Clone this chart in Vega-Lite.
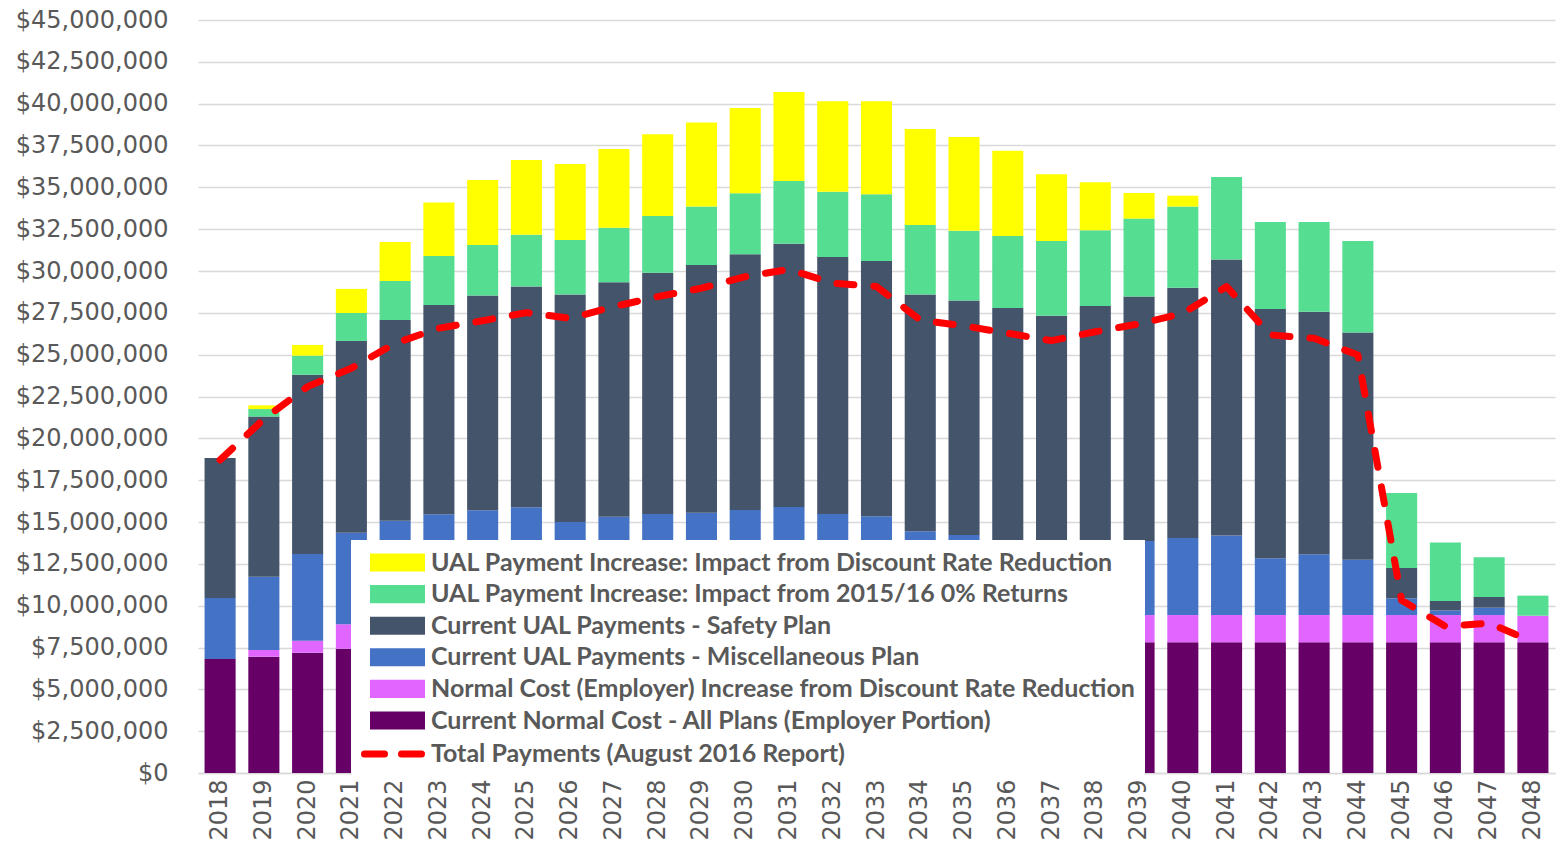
{
  "$schema": "https://vega.github.io/schema/vega-lite/v6.json",
  "width": 1357,
  "height": 753,
  "autosize": {"type": "none"},
  "padding": {"left": 198, "top": 20, "right": 9, "bottom": 74},
  "background": "white",
  "config": {
    "view": {"stroke": null},
    "axis": {"labelFont": "DejaVu Sans", "labelColor": "#595959", "labelFontSize": 24, "ticks": false, "tickSize": 0, "gridColor": "#D9D9D9", "gridWidth": 1.3}
  },
  "datasets": {
    "stackrank": [
      {"series": "Current Normal Cost - All Plans (Employer Portion)", "rank": 1},
      {"series": "Normal Cost (Employer) Increase from Discount Rate Reduction", "rank": 2},
      {"series": "Current UAL Payments - Miscellaneous Plan", "rank": 3},
      {"series": "Current UAL Payments - Safety Plan", "rank": 4},
      {"series": "UAL Payment Increase: Impact from 2015/16 0% Returns", "rank": 5},
      {"series": "UAL Payment Increase: Impact from Discount Rate Reduction", "rank": 6}
    ]
  },
  "data": {"values": [
    {"year": "2018", "Current Normal Cost - All Plans (Employer Portion)": 6810000, "Normal Cost (Employer) Increase from Discount Rate Reduction": 0, "Current UAL Payments - Miscellaneous Plan": 3650000, "Current UAL Payments - Safety Plan": 8370000, "UAL Payment Increase: Impact from 2015/16 0% Returns": 0, "UAL Payment Increase: Impact from Discount Rate Reduction": 0, "total": 18710000},
    {"year": "2019", "Current Normal Cost - All Plans (Employer Portion)": 6950000, "Normal Cost (Employer) Increase from Discount Rate Reduction": 400000, "Current UAL Payments - Miscellaneous Plan": 4380000, "Current UAL Payments - Safety Plan": 9570000, "UAL Payment Increase: Impact from 2015/16 0% Returns": 450000, "UAL Payment Increase: Impact from Discount Rate Reduction": 220000, "total": 21150000},
    {"year": "2020", "Current Normal Cost - All Plans (Employer Portion)": 7190000, "Normal Cost (Employer) Increase from Discount Rate Reduction": 720000, "Current UAL Payments - Miscellaneous Plan": 5180000, "Current UAL Payments - Safety Plan": 10710000, "UAL Payment Increase: Impact from 2015/16 0% Returns": 1140000, "UAL Payment Increase: Impact from Discount Rate Reduction": 640000, "total": 23090000},
    {"year": "2021", "Current Normal Cost - All Plans (Employer Portion)": 7430000, "Normal Cost (Employer) Increase from Discount Rate Reduction": 1460000, "Current UAL Payments - Miscellaneous Plan": 5470000, "Current UAL Payments - Safety Plan": 11460000, "UAL Payment Increase: Impact from 2015/16 0% Returns": 1670000, "UAL Payment Increase: Impact from Discount Rate Reduction": 1440000, "total": 24190000},
    {"year": "2022", "Current Normal Cost - All Plans (Employer Portion)": 7550000, "Normal Cost (Employer) Increase from Discount Rate Reduction": 1550000, "Current UAL Payments - Miscellaneous Plan": 5980000, "Current UAL Payments - Safety Plan": 11990000, "UAL Payment Increase: Impact from 2015/16 0% Returns": 2330000, "UAL Payment Increase: Impact from Discount Rate Reduction": 2340000, "total": 25680000},
    {"year": "2023", "Current Normal Cost - All Plans (Employer Portion)": 7600000, "Normal Cost (Employer) Increase from Discount Rate Reduction": 1580000, "Current UAL Payments - Miscellaneous Plan": 6280000, "Current UAL Payments - Safety Plan": 12510000, "UAL Payment Increase: Impact from 2015/16 0% Returns": 2930000, "UAL Payment Increase: Impact from Discount Rate Reduction": 3200000, "total": 26580000},
    {"year": "2024", "Current Normal Cost - All Plans (Employer Portion)": 7650000, "Normal Cost (Employer) Increase from Discount Rate Reduction": 1600000, "Current UAL Payments - Miscellaneous Plan": 6450000, "Current UAL Payments - Safety Plan": 12830000, "UAL Payment Increase: Impact from 2015/16 0% Returns": 3030000, "UAL Payment Increase: Impact from Discount Rate Reduction": 3880000, "total": 27030000},
    {"year": "2025", "Current Normal Cost - All Plans (Employer Portion)": 7680000, "Normal Cost (Employer) Increase from Discount Rate Reduction": 1620000, "Current UAL Payments - Miscellaneous Plan": 6580000, "Current UAL Payments - Safety Plan": 13190000, "UAL Payment Increase: Impact from 2015/16 0% Returns": 3100000, "UAL Payment Increase: Impact from Discount Rate Reduction": 4470000, "total": 27510000},
    {"year": "2026", "Current Normal Cost - All Plans (Employer Portion)": 7700000, "Normal Cost (Employer) Increase from Discount Rate Reduction": 1620000, "Current UAL Payments - Miscellaneous Plan": 5680000, "Current UAL Payments - Safety Plan": 13590000, "UAL Payment Increase: Impact from 2015/16 0% Returns": 3260000, "UAL Payment Increase: Impact from Discount Rate Reduction": 4550000, "total": 27170000},
    {"year": "2027", "Current Normal Cost - All Plans (Employer Portion)": 7720000, "Normal Cost (Employer) Increase from Discount Rate Reduction": 1630000, "Current UAL Payments - Miscellaneous Plan": 5970000, "Current UAL Payments - Safety Plan": 14010000, "UAL Payment Increase: Impact from 2015/16 0% Returns": 3260000, "UAL Payment Increase: Impact from Discount Rate Reduction": 4700000, "total": 27870000},
    {"year": "2028", "Current Normal Cost - All Plans (Employer Portion)": 7740000, "Normal Cost (Employer) Increase from Discount Rate Reduction": 1630000, "Current UAL Payments - Miscellaneous Plan": 6110000, "Current UAL Payments - Safety Plan": 14420000, "UAL Payment Increase: Impact from 2015/16 0% Returns": 3390000, "UAL Payment Increase: Impact from Discount Rate Reduction": 4880000, "total": 28470000},
    {"year": "2029", "Current Normal Cost - All Plans (Employer Portion)": 7750000, "Normal Cost (Employer) Increase from Discount Rate Reduction": 1630000, "Current UAL Payments - Miscellaneous Plan": 6180000, "Current UAL Payments - Safety Plan": 14800000, "UAL Payment Increase: Impact from 2015/16 0% Returns": 3490000, "UAL Payment Increase: Impact from Discount Rate Reduction": 5020000, "total": 28970000},
    {"year": "2030", "Current Normal Cost - All Plans (Employer Portion)": 7760000, "Normal Cost (Employer) Increase from Discount Rate Reduction": 1630000, "Current UAL Payments - Miscellaneous Plan": 6330000, "Current UAL Payments - Safety Plan": 15280000, "UAL Payment Increase: Impact from 2015/16 0% Returns": 3650000, "UAL Payment Increase: Impact from Discount Rate Reduction": 5090000, "total": 29660000},
    {"year": "2031", "Current Normal Cost - All Plans (Employer Portion)": 7770000, "Normal Cost (Employer) Increase from Discount Rate Reduction": 1630000, "Current UAL Payments - Miscellaneous Plan": 6500000, "Current UAL Payments - Safety Plan": 15730000, "UAL Payment Increase: Impact from 2015/16 0% Returns": 3750000, "UAL Payment Increase: Impact from Discount Rate Reduction": 5320000, "total": 30100000},
    {"year": "2032", "Current Normal Cost - All Plans (Employer Portion)": 7780000, "Normal Cost (Employer) Increase from Discount Rate Reduction": 1620000, "Current UAL Payments - Miscellaneous Plan": 6080000, "Current UAL Payments - Safety Plan": 15360000, "UAL Payment Increase: Impact from 2015/16 0% Returns": 3900000, "UAL Payment Increase: Impact from Discount Rate Reduction": 5400000, "total": 29270000},
    {"year": "2033", "Current Normal Cost - All Plans (Employer Portion)": 7780000, "Normal Cost (Employer) Increase from Discount Rate Reduction": 1630000, "Current UAL Payments - Miscellaneous Plan": 5930000, "Current UAL Payments - Safety Plan": 15260000, "UAL Payment Increase: Impact from 2015/16 0% Returns": 3980000, "UAL Payment Increase: Impact from Discount Rate Reduction": 5560000, "total": 29070000},
    {"year": "2034", "Current Normal Cost - All Plans (Employer Portion)": 7790000, "Normal Cost (Employer) Increase from Discount Rate Reduction": 1620000, "Current UAL Payments - Miscellaneous Plan": 5030000, "Current UAL Payments - Safety Plan": 14150000, "UAL Payment Increase: Impact from 2015/16 0% Returns": 4160000, "UAL Payment Increase: Impact from Discount Rate Reduction": 5740000, "total": 27070000},
    {"year": "2035", "Current Normal Cost - All Plans (Employer Portion)": 7790000, "Normal Cost (Employer) Increase from Discount Rate Reduction": 1630000, "Current UAL Payments - Miscellaneous Plan": 4800000, "Current UAL Payments - Safety Plan": 14010000, "UAL Payment Increase: Impact from 2015/16 0% Returns": 4180000, "UAL Payment Increase: Impact from Discount Rate Reduction": 5600000, "total": 26720000},
    {"year": "2036", "Current Normal Cost - All Plans (Employer Portion)": 7800000, "Normal Cost (Employer) Increase from Discount Rate Reduction": 1620000, "Current UAL Payments - Miscellaneous Plan": 4470000, "Current UAL Payments - Safety Plan": 13900000, "UAL Payment Increase: Impact from 2015/16 0% Returns": 4300000, "UAL Payment Increase: Impact from Discount Rate Reduction": 5090000, "total": 26280000},
    {"year": "2037", "Current Normal Cost - All Plans (Employer Portion)": 7800000, "Normal Cost (Employer) Increase from Discount Rate Reduction": 1630000, "Current UAL Payments - Miscellaneous Plan": 4250000, "Current UAL Payments - Safety Plan": 13650000, "UAL Payment Increase: Impact from 2015/16 0% Returns": 4470000, "UAL Payment Increase: Impact from Discount Rate Reduction": 3980000, "total": 25840000},
    {"year": "2038", "Current Normal Cost - All Plans (Employer Portion)": 7800000, "Normal Cost (Employer) Increase from Discount Rate Reduction": 1630000, "Current UAL Payments - Miscellaneous Plan": 4330000, "Current UAL Payments - Safety Plan": 14150000, "UAL Payment Increase: Impact from 2015/16 0% Returns": 4520000, "UAL Payment Increase: Impact from Discount Rate Reduction": 2870000, "total": 26370000},
    {"year": "2039", "Current Normal Cost - All Plans (Employer Portion)": 7810000, "Normal Cost (Employer) Increase from Discount Rate Reduction": 1630000, "Current UAL Payments - Miscellaneous Plan": 4430000, "Current UAL Payments - Safety Plan": 14600000, "UAL Payment Increase: Impact from 2015/16 0% Returns": 4660000, "UAL Payment Increase: Impact from Discount Rate Reduction": 1530000, "total": 26840000},
    {"year": "2040", "Current Normal Cost - All Plans (Employer Portion)": 7810000, "Normal Cost (Employer) Increase from Discount Rate Reduction": 1630000, "Current UAL Payments - Miscellaneous Plan": 4600000, "Current UAL Payments - Safety Plan": 14960000, "UAL Payment Increase: Impact from 2015/16 0% Returns": 4850000, "UAL Payment Increase: Impact from Discount Rate Reduction": 650000, "total": 27470000},
    {"year": "2041", "Current Normal Cost - All Plans (Employer Portion)": 7810000, "Normal Cost (Employer) Increase from Discount Rate Reduction": 1630000, "Current UAL Payments - Miscellaneous Plan": 4760000, "Current UAL Payments - Safety Plan": 16480000, "UAL Payment Increase: Impact from 2015/16 0% Returns": 4940000, "UAL Payment Increase: Impact from Discount Rate Reduction": 0, "total": 29070000},
    {"year": "2042", "Current Normal Cost - All Plans (Employer Portion)": 7810000, "Normal Cost (Employer) Increase from Discount Rate Reduction": 1630000, "Current UAL Payments - Miscellaneous Plan": 3400000, "Current UAL Payments - Safety Plan": 14890000, "UAL Payment Increase: Impact from 2015/16 0% Returns": 5200000, "UAL Payment Increase: Impact from Discount Rate Reduction": 0, "total": 26180000},
    {"year": "2043", "Current Normal Cost - All Plans (Employer Portion)": 7810000, "Normal Cost (Employer) Increase from Discount Rate Reduction": 1630000, "Current UAL Payments - Miscellaneous Plan": 3630000, "Current UAL Payments - Safety Plan": 14500000, "UAL Payment Increase: Impact from 2015/16 0% Returns": 5360000, "UAL Payment Increase: Impact from Discount Rate Reduction": 0, "total": 25980000},
    {"year": "2044", "Current Normal Cost - All Plans (Employer Portion)": 7810000, "Normal Cost (Employer) Increase from Discount Rate Reduction": 1630000, "Current UAL Payments - Miscellaneous Plan": 3310000, "Current UAL Payments - Safety Plan": 13570000, "UAL Payment Increase: Impact from 2015/16 0% Returns": 5480000, "UAL Payment Increase: Impact from Discount Rate Reduction": 0, "total": 24980000},
    {"year": "2045", "Current Normal Cost - All Plans (Employer Portion)": 7810000, "Normal Cost (Employer) Increase from Discount Rate Reduction": 1630000, "Current UAL Payments - Miscellaneous Plan": 1000000, "Current UAL Payments - Safety Plan": 1810000, "UAL Payment Increase: Impact from 2015/16 0% Returns": 4490000, "UAL Payment Increase: Impact from Discount Rate Reduction": 0, "total": 10320000},
    {"year": "2046", "Current Normal Cost - All Plans (Employer Portion)": 7810000, "Normal Cost (Employer) Increase from Discount Rate Reduction": 1630000, "Current UAL Payments - Miscellaneous Plan": 280000, "Current UAL Payments - Safety Plan": 560000, "UAL Payment Increase: Impact from 2015/16 0% Returns": 3500000, "UAL Payment Increase: Impact from Discount Rate Reduction": 0, "total": 8760000},
    {"year": "2047", "Current Normal Cost - All Plans (Employer Portion)": 7810000, "Normal Cost (Employer) Increase from Discount Rate Reduction": 1630000, "Current UAL Payments - Miscellaneous Plan": 440000, "Current UAL Payments - Safety Plan": 640000, "UAL Payment Increase: Impact from 2015/16 0% Returns": 2370000, "UAL Payment Increase: Impact from Discount Rate Reduction": 0, "total": 8960000},
    {"year": "2048", "Current Normal Cost - All Plans (Employer Portion)": 7810000, "Normal Cost (Employer) Increase from Discount Rate Reduction": 1590000, "Current UAL Payments - Miscellaneous Plan": 0, "Current UAL Payments - Safety Plan": 0, "UAL Payment Increase: Impact from 2015/16 0% Returns": 1200000, "UAL Payment Increase: Impact from Discount Rate Reduction": 0, "total": 7830000}
  ]},
  "encoding": {
    "x": {
      "field": "year", "type": "ordinal",
      "scale": {"paddingInner": 0.29, "paddingOuter": 0.15},
      "axis": {"title": null, "labelAngle": 270, "labelPadding": 6, "grid": false, "domain": true, "domainColor": "#D9D9D9", "domainWidth": 1.3}
    }
  },
  "layer": [
    {
      "transform": [
        {"fold": [
          "Current Normal Cost - All Plans (Employer Portion)",
          "Normal Cost (Employer) Increase from Discount Rate Reduction",
          "Current UAL Payments - Miscellaneous Plan",
          "Current UAL Payments - Safety Plan",
          "UAL Payment Increase: Impact from 2015/16 0% Returns",
          "UAL Payment Increase: Impact from Discount Rate Reduction"
        ], "as": ["series", "value"]},
        {"lookup": "series", "from": {"data": {"name": "stackrank"}, "key": "series", "fields": ["rank"]}}
      ],
      "mark": {"type": "bar"},
      "encoding": {
        "y": {
          "field": "value", "type": "quantitative", "stack": "zero",
          "scale": {"domain": [0, 45000000], "nice": false},
          "axis": {"title": null, "format": "$,.0f", "values": [0, 2500000, 5000000, 7500000, 10000000, 12500000, 15000000, 17500000, 20000000, 22500000, 25000000, 27500000, 30000000, 32500000, 35000000, 37500000, 40000000, 42500000, 45000000], "labelPadding": 30, "domain": false, "grid": true}
        },
        "order": {"field": "rank", "type": "quantitative", "sort": "ascending"},
        "color": {
          "field": "series", "type": "nominal",
          "scale": {
            "domain": [
              "UAL Payment Increase: Impact from Discount Rate Reduction",
              "UAL Payment Increase: Impact from 2015/16 0% Returns",
              "Current UAL Payments - Safety Plan",
              "Current UAL Payments - Miscellaneous Plan",
              "Normal Cost (Employer) Increase from Discount Rate Reduction",
              "Current Normal Cost - All Plans (Employer Portion)",
              "Total Payments (August 2016 Report)"
            ],
            "range": ["#FFFF00", "#55DD92", "#44546A", "#4472C4", "#E066FF", "#660066", "#FF0000"]
          },
          "legend": {
            "title": null,
            "orient": "none",
            "legendX": 153,
            "legendY": 520,
            "fillColor": "white",
            "padding": 10,
            "labelFont": "Lato",
            "labelFontWeight": "bold",
            "labelFontSize": 25,
            "labelColor": "#595959",
            "labelLimit": 1000,
            "labelOffset": 21,
            "symbolOffset": 24,
            "rowPadding": 5.6,
            "symbolSize": 3025,
            "encode": {
              "symbols": {
                "update": {
                  "shape": {"signal": "datum.value === 'Total Payments (August 2016 Report)' ? 'M-1.2,0H1.2' : 'M-1,-0.33H1V0.33H-1Z'"},
                  "fill": {"signal": "datum.value === 'Total Payments (August 2016 Report)' ? 'transparent' : scale('color', datum.value)"},
                  "stroke": {"signal": "datum.value === 'Total Payments (August 2016 Report)' ? '#FF0000' : 'transparent'"},
                  "strokeWidth": {"signal": "datum.value === 'Total Payments (August 2016 Report)' ? 7 : 0"},
                  "strokeDash": {"signal": "datum.value === 'Total Payments (August 2016 Report)' ? [20, 17] : []"},
                  "strokeCap": {"value": "round"},
                  "size": {"value": 3025},
                  "opacity": {"value": 1}
                }
              }
            }
          }
        }
      }
    },
    {
      "mark": {"type": "line", "strokeWidth": 7, "strokeDash": [17, 20], "strokeCap": "round", "strokeJoin": "round"},
      "encoding": {
        "y": {"field": "total", "type": "quantitative", "title": null},
        "color": {"datum": "Total Payments (August 2016 Report)", "type": "nominal"}
      }
    }
  ]
}
